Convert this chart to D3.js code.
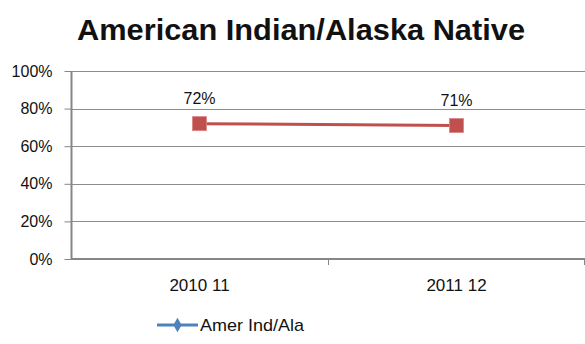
<!DOCTYPE html>
<html>
<head>
<meta charset="utf-8">
<script src="https://cdn.jsdelivr.net/npm/d3@7"></script>
<style>
  html, body { margin: 0; padding: 0; background: #fff; }
  svg { display: block; }
  text { font-family: "Liberation Sans", Arial, sans-serif; fill: #111; }
</style>
</head>
<body>
<svg id="chart" width="585" height="344"></svg>
<script>
// Chart data
const categories = ["2010 11", "2011 12"];
const seriesName = "Amer Ind/Ala";
const values = [0.72, 0.71];
const valueLabels = ["72%", "71%"];
const yTicks = [0, 0.2, 0.4, 0.6, 0.8, 1.0];
const titleText = "American Indian/Alaska Native";

const svg = d3.select("#chart");
const margin = { left: 71, right: 0, top: 71, bottom: 85 };
const width = 585, height = 344;

const x = d3.scaleBand()
  .domain(categories)
  .range([margin.left, width - margin.right])
  .paddingInner(0).paddingOuter(0);

const y = d3.scaleLinear()
  .domain([0, 1])
  .range([height - margin.bottom, margin.top]);

// Title
svg.append("text")
  .attr("x", 301)
  .attr("y", 40)
  .attr("text-anchor", "middle")
  .style("font-size", "29px")
  .style("font-weight", "bold")
  .attr("textLength", 448)
  .attr("lengthAdjust", "spacingAndGlyphs")
  .text(titleText);

// Horizontal gridlines
svg.append("g")
  .selectAll("line")
  .data(yTicks.filter(d => d > 0))
  .join("line")
  .attr("x1", margin.left)
  .attr("x2", width - margin.right)
  .attr("y1", d => Math.round(y(d)) + 0.5)
  .attr("y2", d => Math.round(y(d)) + 0.5)
  .attr("stroke", "#8c8c8c")
  .attr("stroke-width", 1);

// Y axis
const yAxis = d3.axisLeft(y)
  .tickValues(yTicks)
  .tickFormat(d3.format(".0%"))
  .tickSize(7)
  .tickPadding(12);

const gy = svg.append("g")
  .attr("transform", `translate(${margin.left + 0.5},0)`)
  .call(yAxis);
gy.select(".domain").attr("stroke", "#868686").attr("stroke-width", 2).attr("d", `M0,${y(1)}V${y(0)}`);
gy.selectAll(".tick line").attr("stroke", "#868686");
gy.selectAll(".tick text")
  .style("font-size", "16px")
  .style("font-family", "'Liberation Sans', Arial, sans-serif")
  .attr("fill", "#111");

// X axis
const xAxis = d3.axisBottom(x)
  .tickSize(0)
  .tickPadding(20);
const gx = svg.append("g")
  .attr("transform", `translate(0,${y(0)})`)
  .call(xAxis);
gx.select(".domain").attr("stroke", "#868686").attr("stroke-width", 2).attr("d", `M${margin.left},0H${width}`);
gx.selectAll(".tick text")
  .style("font-size", "17px")
  .style("font-family", "'Liberation Sans', Arial, sans-serif")
  .attr("fill", "#111");

// Category separator tick marks
svg.append("g")
  .selectAll("line")
  .data(categories.slice(1).concat(["end"]))
  .join("line")
  .attr("x1", (d, i) => i < categories.length - 1 ? x(d) + 0.5 : width - 0.5)
  .attr("x2", (d, i) => i < categories.length - 1 ? x(d) + 0.5 : width - 0.5)
  .attr("y1", y(0))
  .attr("y2", y(0) + 6)
  .attr("stroke", "#868686");

// Series line
const line = d3.line()
  .x((d, i) => x(categories[i]) + x.bandwidth() / 2)
  .y(d => y(d));

svg.append("path")
  .datum(values)
  .attr("d", line)
  .attr("fill", "none")
  .attr("stroke", "#C0504D")
  .attr("stroke-width", 3);

// Square markers
svg.append("g")
  .selectAll("rect")
  .data(values)
  .join("rect")
  .attr("x", (d, i) => x(categories[i]) + x.bandwidth() / 2 - 7)
  .attr("y", d => y(d) - 7)
  .attr("width", 14)
  .attr("height", 14)
  .attr("fill", "#C0504D")
  .attr("stroke", "#d98583")
  .attr("stroke-width", 0.8);

// Value labels
svg.append("g")
  .selectAll("text")
  .data(values)
  .join("text")
  .attr("x", (d, i) => x(categories[i]) + x.bandwidth() / 2)
  .attr("y", d => y(d) - 20)
  .attr("text-anchor", "middle")
  .style("font-size", "16px")
  .text((d, i) => valueLabels[i]);

// Legend
const lg = svg.append("g").attr("transform", "translate(157,325)");
lg.append("line")
  .attr("x1", 0).attr("x2", 41)
  .attr("y1", 0).attr("y2", 0)
  .attr("stroke", "#4F81BD")
  .attr("stroke-width", 3);
lg.append("path")
  .attr("d", d3.symbol().type(d3.symbolDiamond).size(60)())
  .attr("transform", "translate(20.5,0)")
  .attr("fill", "#4F81BD");
lg.append("text")
  .attr("x", 43)
  .attr("y", 6)
  .style("font-size", "17px")
  .attr("textLength", 104)
  .attr("lengthAdjust", "spacingAndGlyphs")
  .text(seriesName);
</script>
</body>
</html>
